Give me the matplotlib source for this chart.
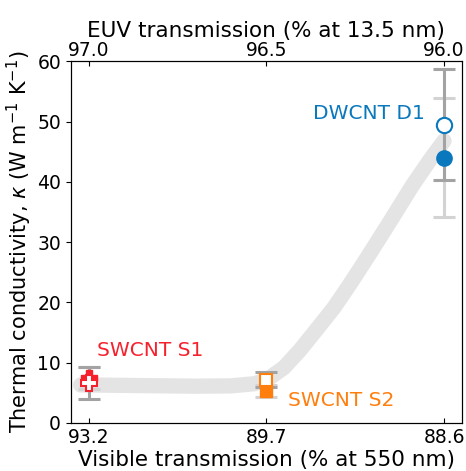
import matplotlib.pyplot as plt

# sample positions along the x axis (categorical, evenly spaced)
positions = [0, 1, 2]
visible_labels = ["93.2", "89.7", "88.6"]
euv_labels = ["97.0", "96.5", "96.0"]
names = ["SWCNT S1", "SWCNT S2", "DWCNT D1"]
colors = ["#f5222d", "#ff7f0e", "#0a78bd"]
markers = ["P", "s", "o"]

# two measurements per sample: open and filled markers
kappa_open = [6.6, 7.2, 49.5]
err_open = [2.6, 1.2, 9.25]
kappa_filled = [7.5, 5.3, 44.0]
err_filled = [1.8, 1.0, 9.9]

# guide-to-the-eye trend curve
trend_x = [-0.045, 0.0, 0.3, 0.6, 0.8, 0.93, 1.0, 1.1, 1.19, 1.28, 1.38, 1.47,
           1.58, 1.7, 1.82, 1.92, 2.0]
trend_y = [6.3, 6.3, 6.2, 6.1, 6.15, 6.5, 7.1, 9.2, 12.1, 15.4, 19.1, 23.0,
           28.0, 33.6, 39.3, 43.6, 46.8]

label_pos = [(0.05, 12.0, "left"), (1.12, 3.8, "left"), (1.26, 51.3, "left")]

fig = plt.figure(figsize=(4.66, 4.71), dpi=100)
ax = fig.add_axes([0.152, 0.102, 0.839, 0.768])

ax.plot(trend_x, trend_y, color="#e4e4e4", lw=11, solid_capstyle="round",
        solid_joinstyle="round", zorder=1)

for i, x in enumerate(positions):
    ax.errorbar(x, kappa_filled[i], yerr=err_filled[i], fmt="none", ecolor="#d3d3d3",
                elinewidth=2.2, capsize=8, capthick=2.2, zorder=2)
    ax.errorbar(x, kappa_open[i], yerr=err_open[i], fmt="none", ecolor="#a3a3a3",
                elinewidth=2.2, capsize=8, capthick=2.2, zorder=3)

ms = [11, 9, 11]
for i, x in enumerate(positions):
    ax.plot(x, kappa_filled[i], marker=markers[i], ms=ms[i], color=colors[i],
            mec=colors[i], ls="none", zorder=4)
    ax.plot(x, kappa_open[i], marker=markers[i], ms=ms[i], mfc="white",
            mec=colors[i], mew=1.5, ls="none", zorder=5)
    lx, ly, ha = label_pos[i]
    ax.text(lx, ly, names[i], color=colors[i], fontsize=14.5, ha=ha, va="center")

ax.set_xlim(-0.1, 2.1)
ax.set_ylim(0, 60)
ax.set_xticks(positions)
ax.set_xticklabels(visible_labels)
ax.set_yticks(range(0, 61, 10))
ax.tick_params(axis="x", direction="in", labelsize=13.5)
ax.tick_params(axis="y", labelsize=13.5)
ax.set_xlabel("Visible transmission (% at 550 nm)", fontsize=15.5, labelpad=2)
ax.set_ylabel(r"Thermal conductivity, $\kappa$ (W m$^{-1}$ K$^{-1}$)", fontsize=15, labelpad=2)

top = ax.twiny()
top.set_xlim(ax.get_xlim())
top.set_xticks(positions)
top.set_xticklabels(euv_labels)
top.tick_params(axis="x", direction="in", labelsize=13.5, pad=1)
top.set_xlabel("EUV transmission (% at 13.5 nm)", fontsize=15.5, labelpad=3)

fig.savefig("out.png", dpi=100)
